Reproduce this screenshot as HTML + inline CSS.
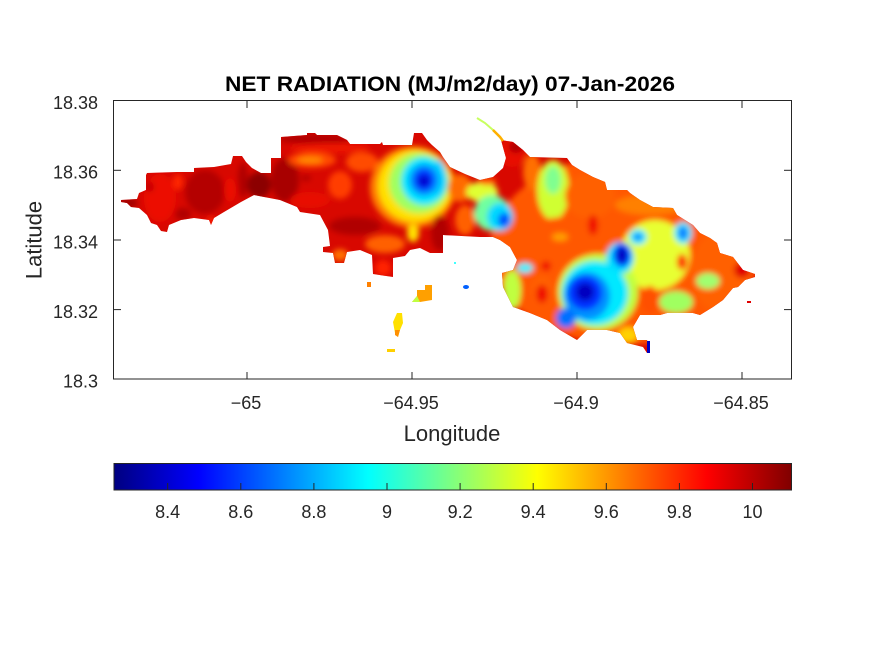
<!DOCTYPE html>
<html><head><meta charset="utf-8"><style>
html,body{margin:0;padding:0;background:#fff;}
svg{display:block;}
text{font-family:"Liberation Sans",Arial,sans-serif;fill:#262626;}
</style></head><body>
<svg width="875" height="656" viewBox="0 0 875 656" xmlns="http://www.w3.org/2000/svg">
<defs>
<linearGradient id="jet" x1="0" x2="1" y1="0" y2="0">
<stop offset="0" stop-color="#000080"/>
<stop offset="0.125" stop-color="#0000ff"/>
<stop offset="0.375" stop-color="#00ffff"/>
<stop offset="0.625" stop-color="#ffff00"/>
<stop offset="0.875" stop-color="#ff0000"/>
<stop offset="1" stop-color="#800000"/>
</linearGradient>
<filter id="bl" x="-20%" y="-20%" width="140%" height="140%"><feGaussianBlur stdDeviation="3"/></filter>
<clipPath id="isl"><polygon points="121,200 137,199 139,193 146,190 146,175 147,173 177,172 194,172 194,168 214,167 231,164 233,156 242,156 246,162 252,168 261,173 271,173 271,158 281,158 281,137 307,135 307,133 315,133 317,135 337,135 347,140 350,144 380,144 382,142 383,145 412,145 414,133 422,133 427,140 432,145 440,152 443,157 450,167 465,174 480,180 493,177 503,168 506,158 501,140 513,142 523,150 530,157 567,158 572,165 580,170 593,177 605,182 607,190 627,190 630,193 640,200 653,207 673,208 677,215 693,225 700,233 710,238 717,243 720,253 733,257 743,270 755,274 755,277 745,280 738,287 733,288 723,300 713,307 700,315 693,313 667,313 660,315 640,315 633,327 637,340 647,340 650,353 647,353 643,347 627,343 620,333 607,330 587,330 577,340 560,330 547,320 530,313 513,307 503,287 502,273 513,270 517,260 510,247 500,240 493,237 480,237 443,235 443,253 430,253 420,248 410,250 405,256 393,258 393,277 373,274 372,255 360,250 347,252 344,263 335,263 333,253 323,252 323,247 330,246 328,230 320,215 300,212 297,207 280,200 264,197 254,195 241,202 224,212 214,218 211,225 209,220 194,218 181,220 169,225 167,232 161,231 157,225 151,223 147,215 139,208 131,207 127,203 121,202"/></clipPath>
</defs>

<!-- map -->
<g clip-path="url(#isl)">
<rect x="110" y="120" width="660" height="240" fill="#d80800"/>
<g filter="url(#bl)">
<!-- west -->
<ellipse cx="128" cy="203" rx="10" ry="5" fill="#a00000"/>
<ellipse cx="160" cy="198" rx="16" ry="24" fill="#ec1000"/>
<ellipse cx="150" cy="187" rx="4" ry="5" fill="#c00000"/>
<ellipse cx="178" cy="182" rx="5" ry="8" fill="#ff2800"/>
<ellipse cx="205" cy="192" rx="20" ry="22" fill="#b40000"/>
<ellipse cx="183" cy="214" rx="8" ry="6" fill="#b00000"/>
<ellipse cx="230" cy="190" rx="6" ry="12" fill="#ec1000"/>
<ellipse cx="243" cy="180" rx="5" ry="18" fill="#b00000"/>
<ellipse cx="259" cy="185" rx="12" ry="13" fill="#8c0000"/>
<ellipse cx="211" cy="221" rx="4" ry="4" fill="#ff2000"/>
<!-- middle -->
<ellipse cx="285" cy="180" rx="14" ry="22" fill="#a80000"/>
<ellipse cx="315" cy="139" rx="36" ry="5" fill="#b00000"/>
<ellipse cx="330" cy="148" rx="40" ry="5" fill="#ee1800"/>
<ellipse cx="312" cy="160" rx="24" ry="8" fill="#ff4a00"/>
<ellipse cx="310" cy="160" rx="13" ry="3" fill="#ff9000"/>
<ellipse cx="306" cy="178" rx="5" ry="3" fill="#b00000"/>
<ellipse cx="340" cy="185" rx="12" ry="14" fill="#ff3c00"/>
<ellipse cx="362" cy="162" rx="16" ry="10" fill="#ff4c00"/>
<ellipse cx="310" cy="200" rx="20" ry="8" fill="#e81000"/>
<!-- blue blob middle -->
<ellipse cx="413" cy="187" rx="43" ry="41" fill="#ff8000"/>
<ellipse cx="415" cy="186" rx="37" ry="36" fill="#ffe000"/>
<ellipse cx="419" cy="183" rx="30" ry="30" fill="#a0ff60"/>
<ellipse cx="424" cy="181" rx="23" ry="24" fill="#00e4ff"/>
<ellipse cx="438" cy="178" rx="8" ry="18" fill="#00d0ff"/>
<ellipse cx="424" cy="180" rx="15" ry="16" fill="#0090ff"/>
<ellipse cx="424" cy="180" rx="10" ry="11" fill="#0038ff"/>
<ellipse cx="424" cy="181" rx="6" ry="6" fill="#0000d0"/>
<ellipse cx="355" cy="226" rx="26" ry="9" fill="#b00000"/>
<ellipse cx="385" cy="244" rx="20" ry="9" fill="#ff6000"/>
<ellipse cx="340" cy="255" rx="8" ry="6" fill="#ff7000"/>
<ellipse cx="383" cy="268" rx="8" ry="8" fill="#ff2000"/>
<ellipse cx="413" cy="233" rx="6" ry="9" fill="#ffe000"/>
<!-- east base -->
<ellipse cx="625" cy="250" rx="135" ry="95" fill="#ff5800"/>
<!-- east left -->
<ellipse cx="460" cy="188" rx="12" ry="14" fill="#ff6a00"/>
<ellipse cx="482" cy="192" rx="16" ry="10" fill="#e0ff30"/>
<ellipse cx="487" cy="181" rx="9" ry="4" fill="#ff5000"/>
<ellipse cx="465" cy="220" rx="10" ry="15" fill="#ff6000"/>
<ellipse cx="440" cy="233" rx="9" ry="18" fill="#b00000"/>
<ellipse cx="492" cy="213" rx="18" ry="18" fill="#70ffa0"/>
<ellipse cx="500" cy="217" rx="13" ry="14" fill="#00d8ff"/>
<ellipse cx="504" cy="220" rx="6" ry="7" fill="#0050ff"/>
<ellipse cx="512" cy="153" rx="14" ry="14" fill="#e81000"/>
<ellipse cx="516" cy="147" rx="7" ry="6" fill="#b00000"/>
<ellipse cx="532" cy="172" rx="9" ry="18" fill="#ff7000"/>
<ellipse cx="553" cy="190" rx="16" ry="30" fill="#d0ff30"/>
<ellipse cx="553" cy="180" rx="8" ry="14" fill="#80ff90"/>
<ellipse cx="590" cy="196" rx="25" ry="22" fill="#ff6000"/>
<ellipse cx="565" cy="245" rx="45" ry="28" fill="#ff5800"/>
<ellipse cx="593" cy="225" rx="5" ry="10" fill="#f01000"/>
<ellipse cx="650" cy="205" rx="35" ry="10" fill="#ff8000"/>
<ellipse cx="560" cy="237" rx="8" ry="4" fill="#ffa000"/>
<ellipse cx="546" cy="266" rx="5" ry="5" fill="#f01000"/>
<ellipse cx="655" cy="255" rx="35" ry="35" fill="#e8ff30"/>
<ellipse cx="638" cy="237" rx="9" ry="8" fill="#40f0ff"/>
<ellipse cx="638" cy="237" rx="5" ry="4" fill="#1090ff"/>
<ellipse cx="683" cy="233" rx="9" ry="11" fill="#40f0ff"/>
<ellipse cx="683" cy="233" rx="5" ry="7" fill="#1080ff"/>
<!-- big blue -->
<ellipse cx="598" cy="292" rx="40" ry="38" fill="#c0ff40"/>
<ellipse cx="595" cy="293" rx="33" ry="32" fill="#00e8ff"/>
<ellipse cx="620" cy="258" rx="14" ry="16" fill="#00e0ff"/>
<ellipse cx="622" cy="255" rx="9" ry="12" fill="#0040ff"/>
<ellipse cx="622" cy="255" rx="5" ry="8" fill="#0000c0"/>
<ellipse cx="587" cy="296" rx="23" ry="24" fill="#0090ff"/>
<ellipse cx="585" cy="293" rx="17" ry="17" fill="#0030ff"/>
<ellipse cx="585" cy="292" rx="9" ry="9" fill="#0000c0"/>
<ellipse cx="566" cy="318" rx="10" ry="10" fill="#0070ff"/>
<ellipse cx="542" cy="290" rx="10" ry="14" fill="#ff6000"/>
<ellipse cx="542" cy="294" rx="6" ry="9" fill="#f01000"/>
<ellipse cx="512" cy="290" rx="9" ry="20" fill="#c0ff40"/>
<ellipse cx="525" cy="268" rx="8" ry="5" fill="#40f0ff"/>
<!-- east right -->
<ellipse cx="720" cy="272" rx="28" ry="40" fill="#ff6000"/>
<ellipse cx="742" cy="270" rx="8" ry="8" fill="#e00000"/>
<ellipse cx="682" cy="262" rx="5" ry="8" fill="#ff2000"/>
<ellipse cx="708" cy="281" rx="12" ry="8" fill="#a0ff70"/>
<ellipse cx="650" cy="300" rx="9" ry="14" fill="#ff5000"/>
<ellipse cx="676" cy="302" rx="17" ry="11" fill="#a0ff60"/>
<ellipse cx="628" cy="335" rx="10" ry="8" fill="#ffd000"/>
</g>
</g>
<rect x="647" y="341" width="3" height="12" fill="#0000c0"/>

<!-- small fragments -->
<polyline points="477,118 485,123 493,130 500,137" fill="none" stroke="#c8ff60" stroke-width="2"/>
<polyline points="493,130 500,137 503,141" fill="none" stroke="#ffb000" stroke-width="2.5"/>
<rect x="367" y="282" width="4" height="5" fill="#ff8000"/>
<polygon points="425,285 432,285 432,300 420,302 412,302 417,296 417,290 425,290" fill="#ffa000"/>
<polygon points="417,296 420,302 412,302" fill="#c0ff40"/>
<polygon points="397,313 402,313 403,323 400,330 398,337 395,333 393,322" fill="#ffe000"/>
<polygon points="395,330 400,330 398,337 395,335" fill="#ff9000"/>
<rect x="387" y="349" width="8" height="3" fill="#ffd000"/>
<ellipse cx="466" cy="287" rx="3" ry="2" fill="#0060ff"/>
<rect x="454" y="262" width="2" height="2" fill="#40ffff"/>
<rect x="747" y="301" width="4" height="2" fill="#e00000"/>

<!-- axes box -->
<rect x="113.5" y="100.5" width="678" height="278.5" fill="none" stroke="#262626" stroke-width="1"/>
<g stroke="#262626" stroke-width="1">
<line x1="247" y1="379" x2="247" y2="372"/><line x1="247" y1="101" x2="247" y2="108"/>
<line x1="412" y1="379" x2="412" y2="372"/><line x1="412" y1="101" x2="412" y2="108"/>
<line x1="577" y1="379" x2="577" y2="372"/><line x1="577" y1="101" x2="577" y2="108"/>
<line x1="742" y1="379" x2="742" y2="372"/><line x1="742" y1="101" x2="742" y2="108"/>
<line x1="114" y1="170.3" x2="121" y2="170.3"/><line x1="791" y1="170.3" x2="784" y2="170.3"/>
<line x1="114" y1="240" x2="121" y2="240"/><line x1="791" y1="240" x2="784" y2="240"/>
<line x1="114" y1="309.6" x2="121" y2="309.6"/><line x1="791" y1="309.6" x2="784" y2="309.6"/>
</g>

<!-- tick labels -->
<g font-size="18">
<text x="98" y="109" text-anchor="end">18.38</text>
<text x="98" y="178.6" text-anchor="end">18.36</text>
<text x="98" y="248.3" text-anchor="end">18.34</text>
<text x="98" y="317.9" text-anchor="end">18.32</text>
<text x="98" y="387.5" text-anchor="end">18.3</text>
<text x="246" y="409" text-anchor="middle">−65</text>
<text x="411" y="409" text-anchor="middle">−64.95</text>
<text x="576" y="409" text-anchor="middle">−64.9</text>
<text x="741" y="409" text-anchor="middle">−64.85</text>
</g>

<!-- axis labels -->
<text x="452" y="441" text-anchor="middle" font-size="22">Longitude</text>
<text x="41.5" y="240" text-anchor="middle" font-size="22" transform="rotate(-90 41.5 240)">Latitude</text>

<!-- title -->
<text x="450" y="91" text-anchor="middle" font-size="21" font-weight="bold" style="fill:#000" textLength="450" lengthAdjust="spacingAndGlyphs">NET RADIATION (MJ/m2/day) 07-Jan-2026</text>

<!-- colorbar -->
<rect x="114" y="463.5" width="677.5" height="26.5" fill="url(#jet)"/>
<rect x="114" y="463.5" width="677.5" height="26.5" fill="none" stroke="#262626" stroke-width="1"/>
<g stroke="#262626" stroke-width="1">
<line x1="167.7" y1="490" x2="167.7" y2="483"/>
<line x1="240.8" y1="490" x2="240.8" y2="483"/>
<line x1="313.9" y1="490" x2="313.9" y2="483"/>
<line x1="387" y1="490" x2="387" y2="483"/>
<line x1="460.1" y1="490" x2="460.1" y2="483"/>
<line x1="533.2" y1="490" x2="533.2" y2="483"/>
<line x1="606.3" y1="490" x2="606.3" y2="483"/>
<line x1="679.4" y1="490" x2="679.4" y2="483"/>
<line x1="752.5" y1="490" x2="752.5" y2="483"/>
</g>
<g font-size="18" text-anchor="middle">
<text x="167.7" y="518">8.4</text>
<text x="240.8" y="518">8.6</text>
<text x="313.9" y="518">8.8</text>
<text x="387" y="518">9</text>
<text x="460.1" y="518">9.2</text>
<text x="533.2" y="518">9.4</text>
<text x="606.3" y="518">9.6</text>
<text x="679.4" y="518">9.8</text>
<text x="752.5" y="518">10</text>
</g>
</svg>
</body></html>
